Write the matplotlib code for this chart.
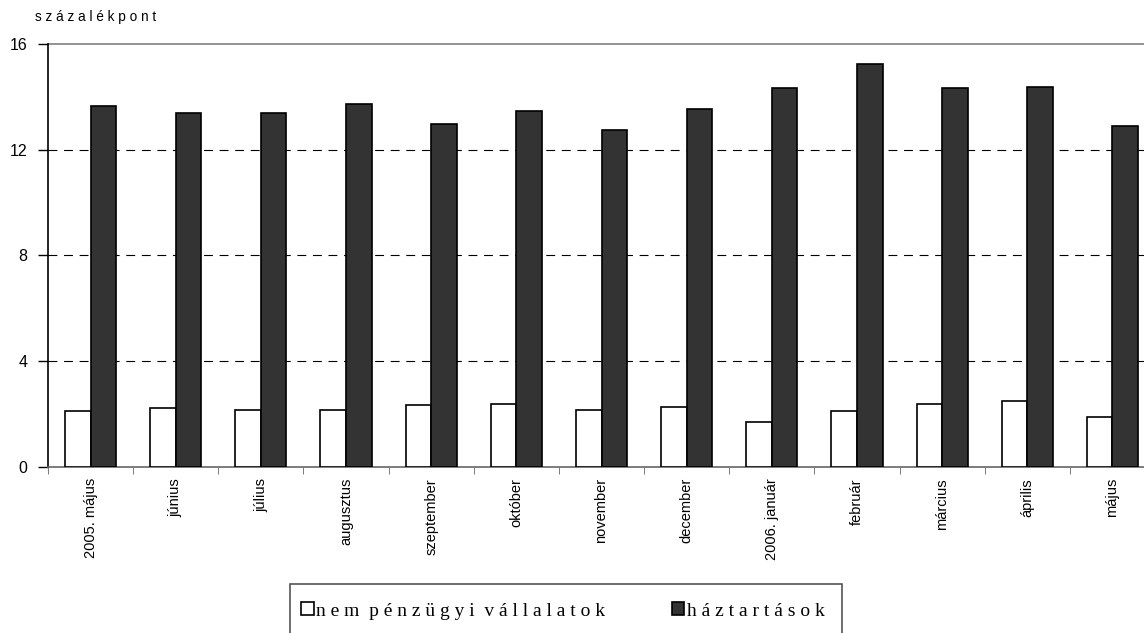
import numpy as np
import matplotlib.pyplot as plt
from matplotlib.patches import Rectangle


# Monthly data, percentage points
months = ['2005. május', 'június', 'július', 'augusztus', 'szeptember',
          'október', 'november', 'december', '2006. január', 'február',
          'március', 'április', 'május']
corporates = [2.12, 2.22, 2.17, 2.17, 2.33, 2.38, 2.17, 2.28, 1.69, 2.12,
              2.38, 2.48, 1.90]
households = [13.65, 13.40, 13.40, 13.72, 12.97, 13.45, 12.75, 13.54, 14.34,
              15.23, 14.34, 14.39, 12.90]
y_ticks = [0, 4, 8, 12, 16]

series_names = ['nem pénzügyi vállalatok', 'háztartások']
unit_label = 'százalékpont'


def spaced(text):
    # the original chart uses wide letter spacing
    return '  '.join(' '.join(word) for word in text.split(' '))


plt.rcParams['font.family'] = ['Liberation Sans', 'DejaVu Sans']

fig = plt.figure(figsize=(11.44, 6.33), dpi=100)
ax = fig.add_axes([48 / 1144, 166 / 633, 1107 / 1144, 423 / 633])

x = np.arange(len(months))
width = 0.3
b1 = ax.bar(x - width / 2, corporates, width, color='white',
            edgecolor='black', linewidth=1.2, zorder=3)
b2 = ax.bar(x + width / 2, households, width, color='#333333',
            edgecolor='black', linewidth=1.2, zorder=3)

ax.set_xlim(-0.5, len(months) - 0.5)
ax.set_ylim(0, 16)
ax.set_yticks(y_ticks)
ax.set_yticklabels([str(v) for v in y_ticks], fontsize=11.5)

# dashed grid for the inner lines, solid grey line at the top
for v in y_ticks[1:-1]:
    ax.axhline(v, color='black', linewidth=0.8, linestyle=(0, (8, 6)),
               zorder=1)
ax.axhline(16, color='#808080', linewidth=1.2, zorder=1, clip_on=False)

ax.set_xticks(x)
ax.set_xticklabels(months, rotation=90, fontsize=10.5)
ax.tick_params(axis='x', length=0, pad=8)
ax.set_xticks(np.arange(len(months) + 1) - 0.5, minor=True)
ax.tick_params(axis='x', which='minor', length=5, color='#666666')
ax.tick_params(axis='y', length=7, width=1, pad=8, direction='out')

for side in ['top', 'right']:
    ax.spines[side].set_visible(False)
ax.spines['left'].set_color('black')
ax.spines['left'].set_linewidth(1.2)
ax.spines['bottom'].set_color('#666666')
ax.spines['bottom'].set_linewidth(1.2)

fig.text(35 / 1144, 1 - 17 / 633, spaced(unit_label), fontsize=9.8,
         ha='left', va='center')

# legend box runs off the bottom of the figure
fig.patches.append(Rectangle((290 / 1144, -0.05), 552 / 1144,
                             0.05 + (633 - 584) / 633,
                             transform=fig.transFigure, fill=False,
                             edgecolor='#555555', linewidth=1.2))
fig.legend([b1, b2], [spaced(n) for n in series_names], ncol=2,
           loc='center', bbox_to_anchor=(563 / 1144, 1 - 611 / 633),
           frameon=False, handlelength=0.62, handleheight=0.62,
           handletextpad=0.15, columnspacing=3.4, borderpad=0,
           prop={'family': 'Liberation Serif', 'size': 14})

fig.savefig('out.png', dpi=100)
